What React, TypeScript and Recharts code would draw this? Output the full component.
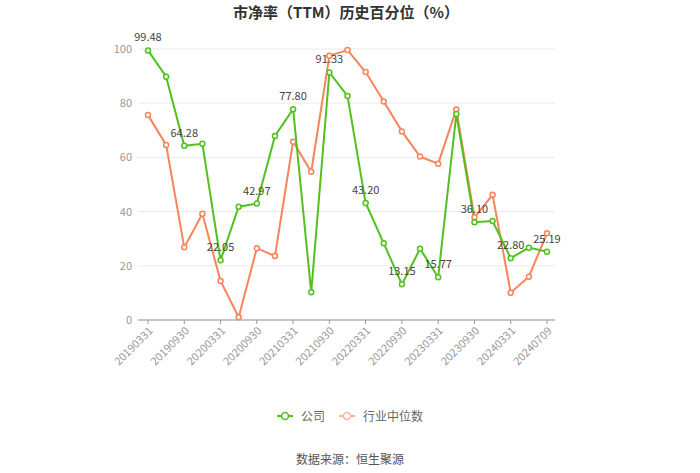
import { LineChart, Line, XAxis, YAxis, CartesianGrid, LabelList } from 'recharts'

const dates = [
  '20190331', '20190630', '20190930', '20191231', '20200331', '20200630', '20200930', '20201231',
  '20210331', '20210630', '20210930', '20211231', '20220331', '20220630', '20220930', '20221231',
  '20230331', '20230630', '20230930', '20231231', '20240331', '20240630', '20240709',
]
const company = [
  99.48, 89.8, 64.28, 65.0, 22.05, 41.8, 42.97, 67.9, 77.8, 10.2, 91.33, 82.7,
  43.2, 28.3, 13.15, 26.3, 15.77, 76.0, 36.1, 36.5, 22.8, 26.7, 25.19,
]
const industry = [
  75.6, 64.6, 26.8, 39.2, 14.4, 1.0, 26.5, 23.6, 65.8, 54.7, 97.5, 99.6,
  91.5, 80.6, 69.6, 60.3, 57.7, 77.7, 37.9, 46.2, 10.1, 16.0, 32.0,
]
const yTicks = [0, 20, 40, 60, 80, 100]

const data = dates.map((d, i) => ({ date: d, company: company[i], industry: industry[i] }))

const GREEN = '#52c11f'
const ORANGE = '#f7845a'
const FONT = '"Noto Sans CJK SC", "Noto Sans", sans-serif'

/* label only on every other point */
const EvenLabel = (props: any) => {
  const { x, y, value, index } = props
  if (index % 2 !== 0) return null
  return (
    <text x={x} y={y - 9} textAnchor="middle" fontSize={11} fill="#444" fontFamily={FONT}>
      {Number(value).toFixed(2)}
    </text>
  )
}

const LegendIcon = ({ color, light }: { color: string; light?: boolean }) => (
  <svg width={16} height={10} style={{ verticalAlign: 'middle', opacity: light ? 0.6 : 1 }}>
    <line x1={0} y1={5} x2={16} y2={5} stroke={color} strokeWidth={2} />
    <circle cx={8} cy={5} r={3.5} fill="#fff" stroke={color} strokeWidth={1.5} />
  </svg>
)

export default function App() {
  return (
    <div style={{ position: 'absolute', left: 0, top: 0, width: 700, height: 473, background: '#fff', fontFamily: FONT }}>
      <div style={{ position: 'absolute', top: 1, left: 0, width: 692, textAlign: 'center', fontSize: 15, fontWeight: 'bold', color: '#333' }}>
        市净率（TTM）历史百分位（%）
      </div>
      <LineChart width={700} height={473} data={data} margin={{ top: 49, right: 145, left: 0, bottom: 93 }}>
        <CartesianGrid vertical={false} stroke="#ebebeb" />
        <XAxis
          dataKey="date"
          interval={1}
          angle={-45}
          textAnchor="end"
          height={60}
          padding={{ left: 10, right: 8 }}
          tick={{ fontSize: 11, fill: '#999', fontFamily: FONT }}
          tickLine={{ stroke: '#999' }}
          tickSize={4}
          axisLine={{ stroke: '#999' }}
        />
        <YAxis
          domain={[0, 100]}
          ticks={yTicks}
          width={138}
          tick={{ fontSize: 11, fill: '#999', fontFamily: FONT }}
          tickLine={false}
          axisLine={false}
          tickMargin={0}
        />
        <Line
          type="linear"
          dataKey="industry"
          stroke={ORANGE}
          strokeWidth={2}
          dot={{ r: 2.5, fill: '#fff', stroke: ORANGE, strokeWidth: 1.5 }}
          isAnimationActive={false}
        />
        <Line
          type="linear"
          dataKey="company"
          stroke={GREEN}
          strokeWidth={2}
          dot={{ r: 2.5, fill: '#fff', stroke: GREEN, strokeWidth: 1.5 }}
          isAnimationActive={false}
        >
          <LabelList dataKey="company" content={EvenLabel} />
        </Line>
      </LineChart>
      <div style={{ position: 'absolute', top: 407, left: 0, width: 700, display: 'flex', justifyContent: 'center', fontSize: 12, color: '#666', gap: 14 }}>
        <span style={{ display: 'flex', alignItems: 'center', gap: 8, marginLeft: 0 }}>
          <LegendIcon color={GREEN} />公司
        </span>
        <span style={{ display: 'flex', alignItems: 'center', gap: 8 }}>
          <LegendIcon color={ORANGE} light />行业中位数
        </span>
      </div>
      <div style={{ position: 'absolute', top: 450, left: 0, width: 700, textAlign: 'center', fontSize: 12, color: '#555' }}>
        数据来源：恒生聚源
      </div>
    </div>
  )
}
